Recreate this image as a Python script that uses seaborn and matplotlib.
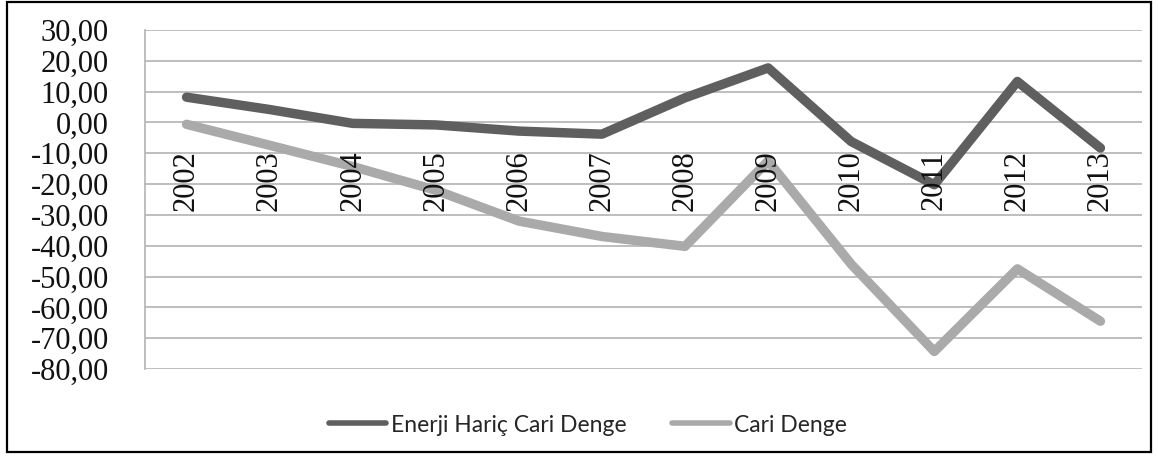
import pandas as pd
import seaborn as sns
import matplotlib.pyplot as plt
from matplotlib.lines import Line2D
from matplotlib.patches import Rectangle
from matplotlib.ticker import FuncFormatter, MultipleLocator

# Veriler
yillar = ['2002', '2003', '2004', '2005', '2006', '2007',
          '2008', '2009', '2010', '2011', '2012', '2013']
enerji_haric = [8.2, 4.2, -0.3, -0.8, -2.8, -3.8, 8.0, 17.7, -6.2, -20.2, 13.3, -8.3]
cari_denge = [-0.6, -7.4, -14.3, -22.0, -32.0, -37.0, -40.2, -12.5, -46.0, -74.3, -47.5, -64.5]
seriler = ['Enerji Hariç Cari Denge', 'Cari Denge']
renkler = ['#5f5f5f', '#aaaaaa']

df = pd.DataFrame({
    'Yıl': yillar * 2,
    'Değer': enerji_haric + cari_denge,
    'Seri': [seriler[0]] * len(yillar) + [seriler[1]] * len(yillar),
})

sns.set_style('white')
plt.rcParams['font.family'] = ['Liberation Serif', 'DejaVu Serif']

fig = plt.figure(figsize=(11.58, 4.57), dpi=100)
ax = fig.add_axes([145 / 1158, 1 - 369 / 457, (1142 - 145) / 1158, (369 - 30) / 457])

sns.lineplot(data=df, x='Yıl', y='Değer', hue='Seri', hue_order=seriler,
             palette=renkler, sort=False, legend=False, ax=ax, linewidth=6.8)
for ln in ax.lines:
    ln.set_solid_joinstyle('round')
    ln.set_solid_capstyle('round')

ax.set_xlim(-0.5, len(yillar) - 0.5)
ax.set_ylim(-80, 30)
ax.yaxis.set_major_locator(MultipleLocator(10))
ax.yaxis.set_major_formatter(FuncFormatter(lambda v, p: f'{v:.2f}'.replace('.', ',')))
ax.set_xlabel('')
ax.set_ylabel('')

# ızgara ve eksenler
ax.yaxis.grid(True, color='#b3b3b3', linewidth=1.2)
ax.xaxis.grid(False)
for s in ['top', 'right']:
    ax.spines[s].set_visible(False)
ax.spines['left'].set_color('#b3b3b3')
ax.spines['left'].set_linewidth(1.2)
ax.spines['bottom'].set_position(('data', 0))
ax.spines['bottom'].set_visible(False)

ax.tick_params(axis='y', length=0, pad=26, labelsize=22, labelcolor='#111111')
ax.tick_params(axis='x', length=0, pad=20, labelsize=22, labelcolor='#111111', labelrotation=90)

# yıl etiketleri çizgilerin üstünde, ızgara altta
ax.xaxis.set_zorder(3)
ax.yaxis.set_zorder(0.5)

# lejant
tutamaclar = [Line2D([], [], color=c, linewidth=4, solid_capstyle='round') for c in renkler]
fig.legend(tutamaclar, seriler, loc='center', bbox_to_anchor=(588 / 1158, 1 - 425 / 457),
           ncol=2, frameon=False, handlelength=2.5, handletextpad=0.2, columnspacing=2.0,
           prop={'family': 'Lato', 'size': 16.5}, labelcolor='#262626')

# çerçeve
fig.patches.append(Rectangle((7 / 1158, 1 - 452 / 457), 1144 / 1158, 450 / 457,
                             transform=fig.transFigure, fill=False,
                             edgecolor='black', linewidth=1.6))

fig.savefig('out.png', dpi=100)
